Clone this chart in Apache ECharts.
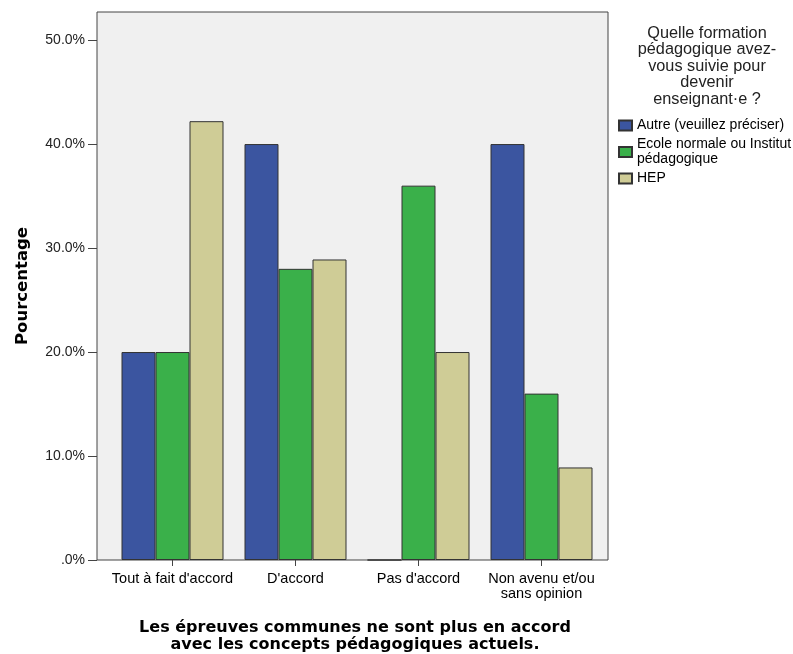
<!DOCTYPE html>
<html>
<head>
<meta charset="utf-8">
<script src="https://cdn.jsdelivr.net/npm/echarts@6/dist/echarts.min.js"></script>
<style>
  html, body { margin: 0; padding: 0; background: #ffffff; }
  #chart { width: 793px; height: 654px; }
</style>
</head>
<body>
<div id="chart"></div>
<script>
// Response categories (x axis)
const categories = ["Tout à fait d'accord", "D'accord", "Pas d'accord", "Non avenu et/ou\nsans opinion"];

// Percentage of respondents in each training group
const seriesNames = ["Autre (veuillez préciser)", "Ecole normale ou Institut\npédagogique", "HEP"];
const autre = [20.0, 40.0, 0.0, 40.0];
const ecoleNormale = [20.0, 28.0, 36.0, 16.0];
const hep = [42.2, 28.9, 20.0, 8.9];

// Y axis ticks
const yTicks = [0, 10, 20, 30, 40, 50];

const colors = ["#3B55A0", "#3AB04A", "#CFCC96"];
const seriesValues = [autre, ecoleNormale, hep];

const chart = echarts.init(document.getElementById('chart'), null, { renderer: 'canvas' });

const font = 'Liberation Sans, Arial, sans-serif';
const boldFont = 'DejaVu Sans, Verdana, sans-serif';

const option = {
  animation: false,
  backgroundColor: '#ffffff',
  textStyle: { fontFamily: font },
  title: [
    {
      text: 'Les épreuves communes ne sont plus en accord\navec les concepts pédagogiques actuels.',
      left: 355, top: 619, padding: 0, textAlign: 'center',
      textStyle: { fontFamily: boldFont, fontWeight: 'bold', fontSize: 16, lineHeight: 17, color: '#000' }
    },
    {
      text: 'Quelle formation\npédagogique avez-\nvous suivie pour\ndevenir\nenseignant·e ?',
      left: 707, top: 25, padding: 0, textAlign: 'center',
      textStyle: { fontFamily: font, fontWeight: 'normal', fontSize: 16.3, lineHeight: 16.5, color: '#222' }
    }
  ],
  legend: {
    orient: 'vertical',
    left: 613, top: 113,
    itemWidth: 13, itemHeight: 10, itemGap: 4,
    icon: 'rect',
    data: seriesNames,
    textStyle: { fontFamily: font, fontSize: 14, color: '#000', lineHeight: 15, padding: 0 },
    selectedMode: false
  },
  graphic: [
    {
      type: 'rect', z: -10, silent: true,
      shape: { x: 97, y: 12, width: 511, height: 548 },
      style: { fill: '#F0F0F0', stroke: '#444', lineWidth: 1 }
    }
  ],
  grid: { left: 111, right: 190, top: 12, bottom: 94, containLabel: false },
  xAxis: {
    type: 'category',
    data: categories,
    axisLine: { show: false },
    axisTick: { show: true, alignWithLabel: true, length: 6, inside: false, lineStyle: { color: '#444' } },
    axisLabel: { fontFamily: font, fontSize: 14.5, color: '#000', margin: 11, lineHeight: 15, interval: 0 },
    splitLine: { show: false }
  },
  yAxis: {
    type: 'value',
    min: 0, max: 52.7, interval: 10,
    offset: 14,
    name: 'Pourcentage',
    nameLocation: 'middle',
    nameRotate: 90,
    nameGap: 66,
    nameTextStyle: { fontFamily: boldFont, fontWeight: 'bold', fontSize: 16.5, color: '#000' },
    axisLine: { show: false },
    axisTick: { show: true, length: 9, lineStyle: { color: '#444' }, customValues: yTicks },
    axisLabel: {
      fontFamily: font, fontSize: 14, color: '#222', margin: 12,
      customValues: yTicks,
      formatter: v => v === 0 ? '.0%' : v.toFixed(1) + '%'
    },
    splitLine: { show: false }
  },
  series: seriesValues.map((vals, i) => ({
    name: seriesNames[i],
    type: 'bar',
    data: vals,
    barWidth: 34,
    barGap: '0%',
    itemStyle: { color: colors[i], borderColor: '#333', borderWidth: 1 }
  }))
};

chart.setOption(option);
</script>
</body>
</html>
